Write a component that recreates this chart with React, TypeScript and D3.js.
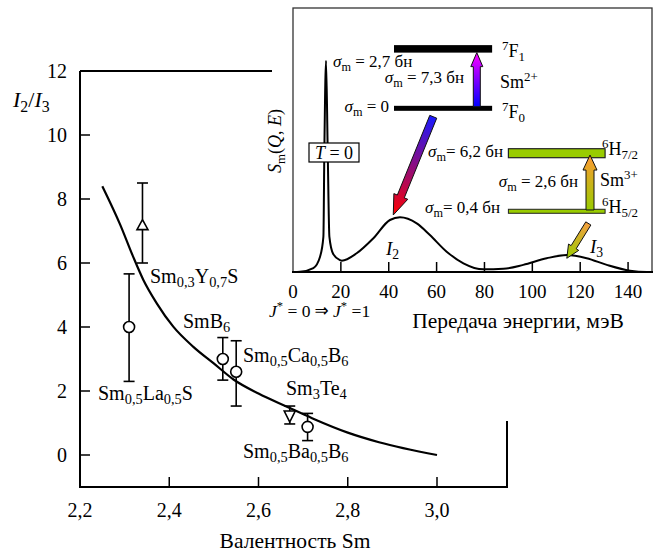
import React from 'react';
import * as d3 from 'd3';

// ---------- main chart data ----------
const valenceTicks = [2.2, 2.4, 2.6, 2.8, 3.0];
const ratioTicks = [0, 2, 4, 6, 8, 10, 12];
const curveValence = [2.25, 2.29, 2.319, 2.342, 2.372, 2.409, 2.454, 2.499, 2.544, 2.6, 2.665, 2.72, 2.8, 2.87, 3.0];
const curveRatio = [8.4, 7.2, 6.2, 5.47, 4.74, 4.01, 3.38, 2.87, 2.36, 1.92, 1.5, 1.15, 0.7, 0.4, 0];

const sampleValence = [2.34, 2.31, 2.52, 2.55, 2.67, 2.71];
const sampleRatio = [7.2, 4.0, 3.0, 2.6, 1.25, 0.88];
const sampleHigh = [8.5, 5.66, 3.67, 3.57, 1.53, 1.3];
const sampleLow = [6.0, 2.3, 2.34, 1.53, 0.97, 0.45];
const sampleMarker = ['up', 'circle', 'circle', 'circle', 'down', 'circle'];

// ---------- inset data ----------
const energyTicks = [0, 20, 40, 60, 80, 100, 120, 140];
const spectrumE = [0, 2.9, 8.5, 11.3, 12.7, 13.1, 13.8, 14.5, 15.2, 16.8, 19.6, 20.4, 26.6, 33.6, 40.5, 44.7, 51.7, 57.2, 64.2, 71.2, 79.5, 87.9, 96.2, 106, 114.4, 122.7, 131.1, 140.8, 147.8, 150];
const spectrumS = [0, 0.01, 0.15, 0.58, 1.34, 4.6, 8.0, 4.6, 1.34, 0.68, 0.45, 0.43, 0.71, 1.28, 1.97, 2.07, 1.84, 1.4, 0.77, 0.33, 0.1, 0.12, 0.27, 0.52, 0.64, 0.52, 0.27, 0.05, 0.0, 0];

const FONT = '"Liberation Serif", "Times New Roman", Times, monospace';

type Seg = { t: string; sub?: boolean; sup?: boolean; it?: boolean; fs?: number };

function Rich({ x, y, segs, size, anchor = 'start', subScale = 0.72 }: { x: number; y: number; segs: Seg[]; size: number; anchor?: string; subScale?: number }) {
  let shift = 0;
  const out: React.ReactNode[] = [];
  segs.forEach((s, i) => {
    let target = 0;
    if (s.sub) target = size * 0.22;
    if (s.sup) target = -size * 0.38;
    const dy = target - shift;
    shift = target;
    const fs = s.fs ?? (s.sub || s.sup ? size * subScale : size);
    out.push(
      <tspan key={i} dy={dy} style={{ fontSize: fs, fontStyle: s.it ? 'italic' : 'normal' }}>
        {s.t}
      </tspan>
    );
  });
  return (
    <text x={x} y={y} textAnchor={anchor as any} fill="#000" style={{ fontFamily: FONT, fontSize: size }}>
      {out}
    </text>
  );
}

function T({ x, y, size, anchor = 'start', children }: { x: number; y: number; size: number; anchor?: string; children: React.ReactNode }) {
  return (
    <text x={x} y={y} textAnchor={anchor as any} fill="#000" style={{ fontFamily: FONT, fontSize: size }}>
      {children}
    </text>
  );
}

function arrowPoints(x1: number, y1: number, x2: number, y2: number, sw: number, hw: number, hl: number) {
  const dx = x2 - x1, dy = y2 - y1;
  const L = Math.hypot(dx, dy);
  const ux = dx / L, uy = dy / L;
  const nx = -uy, ny = ux;
  const bx = x1 + ux * (L - hl), by = y1 + uy * (L - hl);
  const p = (x: number, y: number, k: number) => [x + nx * k, y + ny * k];
  const pts = [
    p(x1, y1, sw / 2), p(bx, by, sw / 2), p(bx, by, hw / 2), [x2, y2],
    p(bx, by, -hw / 2), p(bx, by, -sw / 2), p(x1, y1, -sw / 2),
  ];
  return pts.map((q) => q.join(',')).join(' ');
}

const sigma = (rest: string, space = true): Seg[] => [
  { t: 'σ', it: true },
  { t: 'm', sub: true },
  { t: (space ? ' = ' : '= ') + rest },
];

export default function App() {
  const W = 656, H = 554;
  const xM = d3.scaleLinear().domain([2.2, 3.0]).range([80, 437]);
  const yM = d3.scaleLinear().domain([0, 12]).range([455, 71]);
  const xI = d3.scaleLinear().domain([0, 150]).range([293, 652]);
  const yI = d3.scaleLinear().domain([0, 10]).range([272, 8]);

  const mainLine = d3.line<number>().x((d, i) => xM(curveValence[i])).y((d) => yM(d)).curve(d3.curveMonotoneX)(curveRatio) || '';
  const spec = d3.line<number>().x((d, i) => xI(spectrumE[i])).y((d) => yI(d)).curve(d3.curveMonotoneX)(spectrumS) || '';

  const bottomY = yM(-1);
  const rightX = 507;

  const barE0 = 42.2, barE1 = 83.2;
  const hE0 = 90, hE1 = 130.4;

  const arrows = [
    { id: 'g1', x1: xI(76.8), y1: yI(6.26), x2: xI(76.8), y2: yI(8.31), sw: 7, hw: 12, hl: 14, c1: '#0000ff', c2: '#ff00ff' },
    { id: 'g2', x1: xI(58.6), y1: yI(5.88), x2: xI(41.9), y2: yI(2.16), sw: 7.5, hw: 15, hl: 20, c1: '#1a1aff', c2: '#ff0000' },
    { id: 'g3', x1: xI(124.1), y1: yI(2.35), x2: xI(124.1), y2: yI(4.43), sw: 8, hw: 14, hl: 15, c1: '#99cc00', c2: '#ff9933' },
    { id: 'g4', x1: xI(123.4), y1: yI(1.84), x2: xI(114.4), y2: yI(0.52), sw: 6, hw: 12, hl: 13, c1: '#f5a040', c2: '#99cc00' },
  ];

  return (
    <svg width={W} height={H} style={{ display: 'block', position: 'absolute', left: 0, top: 0, fontFamily: FONT }}>
      <rect width={W} height={H} fill="#fff" />
      <defs>
        {arrows.map((a) => (
          <linearGradient key={a.id} id={a.id} gradientUnits="userSpaceOnUse" x1={a.x1} y1={a.y1} x2={a.x2} y2={a.y2}>
            <stop offset="0" stopColor={a.c1} />
            <stop offset="1" stopColor={a.c2} />
          </linearGradient>
        ))}
      </defs>

      {/* ---------- main chart frame ---------- */}
      <g stroke="#000" strokeWidth={2} fill="none">
        <line x1={80} y1={yM(12)} x2={272} y2={yM(12)} />
        <line x1={80} y1={yM(12)} x2={80} y2={bottomY} />
        <line x1={79} y1={bottomY} x2={rightX} y2={bottomY} />
        <line x1={rightX} y1={421} x2={rightX} y2={bottomY + 1} />
      </g>
      {ratioTicks.filter((t) => t < 12).map((t) => (
        <line key={'yt' + t} x1={80} x2={90} y1={yM(t)} y2={yM(t)} stroke="#000" strokeWidth={1.5} />
      ))}
      {valenceTicks.filter((t) => t > 2.2).map((t) => (
        <line key={'xt' + t} x1={xM(t)} x2={xM(t)} y1={bottomY} y2={bottomY - 10} stroke="#000" strokeWidth={1.5} />
      ))}
      {ratioTicks.map((t) => (
        <T key={'yl' + t} x={67} y={yM(t) + 7} size={20} anchor="end">{t}</T>
      ))}
      {valenceTicks.map((t) => (
        <T key={'xl' + t} x={xM(t)} y={517} size={20} anchor="middle">{t.toFixed(1).replace('.', ',')}</T>
      ))}
      <T x={295} y={548} size={21.5} anchor="middle">Валентность Sm</T>
      <Rich x={13} y={107} size={22} segs={[{ t: 'I', it: true }, { t: '2', sub: true }, { t: '/' }, { t: 'I', it: true }, { t: '3', sub: true }]} />

      <path d={mainLine} fill="none" stroke="#000" strokeWidth={2.2} />

      {sampleValence.map((v, i) => {
        const cx = xM(v);
        const cy = yM(sampleRatio[i]);
        const yh = yM(sampleHigh[i]);
        const yl = yM(sampleLow[i]);
        const m = sampleMarker[i];
        const gapTop = m === 'circle' ? 5.5 : m === 'up' ? 5 : 4;
        const gapBot = m === 'circle' ? 5.5 : m === 'up' ? 5 : 7;
        return (
          <g key={'s' + i} stroke="#000" strokeWidth={1.6} fill="#fff">
            <line x1={cx} x2={cx} y1={yh} y2={cy - gapTop} />
            <line x1={cx} x2={cx} y1={cy + gapBot} y2={yl} />
            <line x1={cx - 5.5} x2={cx + 5.5} y1={yh} y2={yh} />
            <line x1={cx - 5.5} x2={cx + 5.5} y1={yl} y2={yl} />
            {m === 'circle' && <circle cx={cx} cy={cy} r={5.5} />}
            {m === 'up' && <polygon points={`${cx},${cy - 5} ${cx + 5.5},${cy + 5} ${cx - 5.5},${cy + 5}`} />}
            {m === 'down' && <polygon points={`${cx - 5.5},${cy - 4} ${cx + 5.5},${cy - 4} ${cx},${cy + 7}`} />}
          </g>
        );
      })}

      <Rich x={150} y={283} size={20} segs={[{ t: 'Sm' }, { t: '0,3', sub: true }, { t: 'Y' }, { t: '0,7', sub: true }, { t: 'S' }]} />
      <Rich x={183} y={328} size={20} segs={[{ t: 'SmB' }, { t: '6', sub: true }]} />
      <Rich x={243} y={362} size={20} segs={[{ t: 'Sm' }, { t: '0,5', sub: true }, { t: 'Ca' }, { t: '0,5', sub: true }, { t: 'B' }, { t: '6', sub: true }]} />
      <Rich x={98} y={400} size={20} segs={[{ t: 'Sm' }, { t: '0,5', sub: true }, { t: 'La' }, { t: '0,5', sub: true }, { t: 'S' }]} />
      <Rich x={286} y={395} size={20} segs={[{ t: 'Sm' }, { t: '3', sub: true }, { t: 'Te' }, { t: '4', sub: true }]} />
      <Rich x={243} y={458} size={20} segs={[{ t: 'Sm' }, { t: '0,5', sub: true }, { t: 'Ba' }, { t: '0,5', sub: true }, { t: 'B' }, { t: '6', sub: true }]} />

      {/* ---------- inset ---------- */}
      <rect x={xI(0)} y={yI(10)} width={xI(150) - xI(0)} height={yI(0) - yI(10)} fill="#fff" stroke="#333" strokeWidth={1.3} />
      <line x1={xI(0) - 1} x2={xI(150) + 1} y1={yI(0)} y2={yI(0)} stroke="#000" strokeWidth={2.2} />
      {energyTicks.filter((t) => t > 0).map((t) => (
        <line key={'et' + t} x1={xI(t)} x2={xI(t)} y1={yI(0)} y2={yI(0) - 10} stroke="#000" strokeWidth={1.5} />
      ))}
      {energyTicks.map((t) => (
        <T key={'el' + t} x={xI(t)} y={298} size={19} anchor="middle">{t}</T>
      ))}
      <T x={518} y={328} size={21.5} anchor="middle">Передача энергии, мэВ</T>
      <Rich x={269} y={317} size={17.5} segs={[{ t: 'J', it: true }, { t: '*', sup: true }, { t: ' = 0 ' }, { t: '⇒', fs: 23 }, { t: ' ' }, { t: 'J', it: true }, { t: '*', sup: true }, { t: ' =1' }]} />
      <g transform="translate(281,141) rotate(-90)">
        <Rich x={0} y={0} size={18} anchor="middle" segs={[{ t: 'S', it: true }, { t: 'm', sub: true }, { t: '(' }, { t: 'Q', it: true }, { t: ', ' }, { t: 'E', it: true }, { t: ')' }]} />
      </g>

      <path d={spec} fill="none" stroke="#000" strokeWidth={2} />

      <rect x={xI(barE0)} y={yI(8.45) - 3.8} width={xI(barE1) - xI(barE0)} height={7.5} fill="#000" />
      <rect x={xI(barE0)} y={yI(6.2) - 2.5} width={xI(barE1) - xI(barE0)} height={5} fill="#000" />
      <rect x={xI(hE0)} y={yI(4.5) - 4.5} width={xI(hE1) - xI(hE0)} height={9} fill="#99cc00" stroke="#222" strokeWidth={1.2} />
      <rect x={xI(hE0)} y={yI(2.3) - 2} width={xI(hE1) - xI(hE0)} height={4} fill="#99cc00" stroke="#222" strokeWidth={1} />

      {arrows.map((a) => (
        <polygon key={'a' + a.id} points={arrowPoints(a.x1, a.y1, a.x2, a.y2, a.sw, a.hw, a.hl)} fill={`url(#${a.id})`} stroke="#111" strokeWidth={1} strokeLinejoin="miter" />
      ))}

      <rect x={309} y={143} width={50} height={19} fill="#fff" stroke="#000" strokeWidth={1.2} />
      <Rich x={334} y={159} size={18} anchor="middle" segs={[{ t: 'T', it: true }, { t: ' = 0' }]} />

      <Rich x={333} y={67} size={17} segs={sigma('2,7 бн')} />
      <Rich x={464} y={83} size={17} anchor="end" segs={sigma('7,3 бн')} />
      <Rich x={389} y={112} size={17} anchor="end" segs={sigma('0')} />
      <Rich x={503} y={157} size={17} anchor="end" segs={sigma('6,2 бн', false)} />
      <Rich x={578} y={187} size={17} anchor="end" segs={sigma('2,6 бн')} />
      <Rich x={500} y={213} size={17} anchor="end" segs={sigma('0,4 бн', false)} />

      <Rich x={502} y={57} size={18} segs={[{ t: '7', sup: true }, { t: 'F' }, { t: '1', sub: true }]} />
      <Rich x={500} y={88} size={18} segs={[{ t: 'Sm' }, { t: '2+', sup: true }]} />
      <Rich x={502} y={118} size={18} segs={[{ t: '7', sup: true }, { t: 'F' }, { t: '0', sub: true }]} />
      <Rich x={602} y={155} size={18} segs={[{ t: '6', sup: true }, { t: 'H' }, { t: '7/2', sub: true }]} />
      <Rich x={600} y={186} size={18} segs={[{ t: 'Sm' }, { t: '3+', sup: true }]} />
      <Rich x={602} y={213} size={18} segs={[{ t: '6', sup: true }, { t: 'H' }, { t: '5/2', sub: true }]} />
      <Rich x={386} y={255} size={19} segs={[{ t: 'I', it: true }, { t: '2', sub: true }]} />
      <Rich x={590} y={253} size={19} segs={[{ t: 'I', it: true }, { t: '3', sub: true }]} />
    </svg>
  );
}
